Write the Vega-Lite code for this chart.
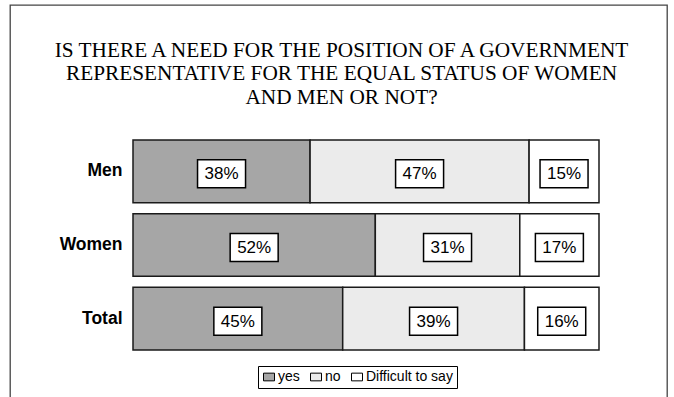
{
  "$schema": "https://vega.github.io/schema/vega-lite/v6.json",
  "autosize": {"type": "none"},
  "width": 657,
  "height": 400,
  "padding": {"left": 10, "top": 5, "right": 7, "bottom": 0},
  "background": "white",
  "config": {"view": {"stroke": "#444", "strokeWidth": 1.3}, "font": "Liberation Sans"},
  "title": {
    "text": ["IS THERE A NEED FOR THE POSITION OF A GOVERNMENT", "REPRESENTATIVE FOR THE EQUAL STATUS OF WOMEN", "AND MEN OR NOT?"],
    "font": "Liberation Serif",
    "fontSize": 21.3,
    "fontWeight": "normal",
    "color": "#000",
    "anchor": "middle",
    "frame": "group",
    "baseline": "top",
    "offset": -103,
    "lineHeight": 23.5,
    "dx": 3
  },
  "data": {
    "values": [
      {"group": "Men", "answer": "yes", "order": 1, "pct": 0.38},
      {"group": "Men", "answer": "no", "order": 2, "pct": 0.47},
      {"group": "Men", "answer": "Difficult to say", "order": 3, "pct": 0.15},
      {"group": "Women", "answer": "yes", "order": 1, "pct": 0.52},
      {"group": "Women", "answer": "no", "order": 2, "pct": 0.31},
      {"group": "Women", "answer": "Difficult to say", "order": 3, "pct": 0.17},
      {"group": "Total", "answer": "yes", "order": 1, "pct": 0.45},
      {"group": "Total", "answer": "no", "order": 2, "pct": 0.39},
      {"group": "Total", "answer": "Difficult to say", "order": 3, "pct": 0.16}
    ]
  },
  "encoding": {
    "y": {
      "field": "group",
      "type": "nominal",
      "sort": ["Men", "Women", "Total"],
      "scale": {"range": [135, 345], "paddingInner": 0.15, "paddingOuter": 0},
      "axis": {
        "title": null,
        "domain": false,
        "ticks": false,
        "offset": -123,
        "labelPadding": 11,
        "labelFont": "Liberation Sans",
        "labelFontSize": 17.5,
        "labelFontWeight": "bold",
        "labelColor": "#000"
      }
    }
  },
  "layer": [
    {
      "mark": {"type": "bar", "stroke": "#1a1a1a", "strokeWidth": 1.5},
      "encoding": {
        "x": {"field": "pct", "type": "quantitative", "stack": "zero", "scale": {"domain": [0, 1], "range": [123, 589]}, "axis": null},
        "order": {"field": "order", "type": "quantitative"},
        "color": {
          "field": "answer",
          "type": "nominal",
          "scale": {"domain": ["yes", "no", "Difficult to say"], "range": ["#a6a6a6", "#ebebeb", "#ffffff"]},
          "legend": {
            "title": null,
            "orient": "none",
            "legendX": 248,
            "legendY": 361,
            "direction": "horizontal",
            "columns": 3,
            "strokeColor": "#000",
            "padding": 4,
            "symbolType": "M-1,-0.7H1V0.7H-1Z",
            "symbolSize": 121,
            "symbolStrokeColor": "#000",
            "symbolStrokeWidth": 1,
            "symbolOpacity": 1,
            "labelFont": "Liberation Sans",
            "labelFontSize": 14,
            "labelColor": "#000",
            "labelOffset": 2,
            "columnPadding": 8
          }
        }
      }
    },
    {
      "transform": [
        {"stack": "pct", "groupby": ["group"], "sort": [{"field": "order"}], "as": ["s", "e"]},
        {"fold": ["s", "e"], "as": ["k", "v"]},
        {"aggregate": [{"op": "mean", "field": "v", "as": "mid"}], "groupby": ["group", "answer", "pct", "order"]}
      ],
      "mark": {"type": "point", "shape": "M-1,-0.583H1V0.583H-1Z", "size": 2304, "filled": true, "fill": "white", "stroke": "#000", "strokeWidth": 1.5, "opacity": 1, "yOffset": 2.5},
      "encoding": {"x": {"field": "mid", "type": "quantitative", "axis": null}}
    },
    {
      "transform": [
        {"stack": "pct", "groupby": ["group"], "sort": [{"field": "order"}], "as": ["s", "e"]},
        {"fold": ["s", "e"], "as": ["k", "v"]},
        {"aggregate": [{"op": "mean", "field": "v", "as": "mid"}], "groupby": ["group", "answer", "pct", "order"]}
      ],
      "mark": {"type": "text", "fontSize": 17, "font": "Liberation Sans", "color": "#000", "baseline": "middle", "yOffset": 3},
      "encoding": {
        "x": {"field": "mid", "type": "quantitative", "axis": null},
        "text": {"field": "pct", "type": "quantitative", "format": ".0%"}
      }
    }
  ]
}
